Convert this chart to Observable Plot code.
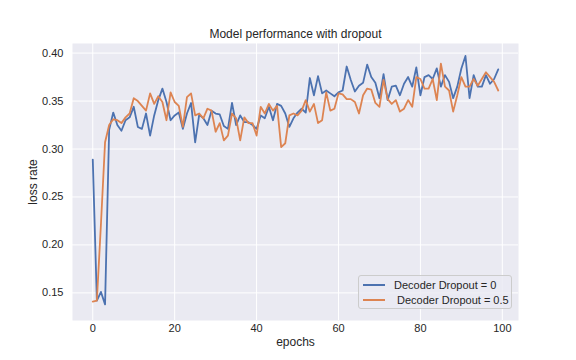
<!DOCTYPE html>
<html>
<head>
<meta charset="utf-8">
<script src="https://cdn.jsdelivr.net/npm/d3@7"></script>
<script src="https://cdn.jsdelivr.net/npm/@observablehq/plot@0.6"></script>
<style>
  html, body { margin: 0; padding: 0; background: #fff; }
  #wrap { position: relative; width: 576px; height: 360px; font-family: "Liberation Sans", Arial, sans-serif; color: #262626; }
  #legend { position: absolute; left: 358px; top: 275px; width: 154px; height: 34px; box-sizing: border-box;
    background: rgba(234,234,242,0.8); border: 1px solid #cccccc; border-radius: 3px; font-size: 11px; }
  .item { position: absolute; left: 4px; height: 14px; display: flex; align-items: center; white-space: pre; }
  .sw { display: inline-block; width: 22px; height: 2px; margin-right: 9px; }
</style>
</head>
<body>
<div id="wrap">
  <div id="chart"></div>
  <div id="legend"></div>
</div>
<script>
const title = "Model performance with dropout";
const xLabel = "epochs";
const yLabel = "loss rate";
const seriesNames = ["Decoder Dropout = 0", " Decoder Dropout = 0.5"];
const seriesColors = ["#4C72B0", "#DD8452"];
const xTicks = [0, 20, 40, 60, 80, 100];
const yTicks = [0.15, 0.20, 0.25, 0.30, 0.35, 0.40];

const lossDropout0 = [
  0.289, 0.142, 0.151, 0.138, 0.320, 0.338, 0.325, 0.319, 0.330, 0.333,
  0.344, 0.323, 0.321, 0.337, 0.314, 0.335, 0.351, 0.363, 0.349, 0.330,
  0.335, 0.338, 0.321, 0.337, 0.348, 0.307, 0.336, 0.332, 0.325, 0.340,
  0.337, 0.336, 0.324, 0.321, 0.348, 0.325, 0.335, 0.328, 0.328, 0.325,
  0.321, 0.335, 0.332, 0.344, 0.330, 0.347, 0.345, 0.337, 0.323, 0.332,
  0.338, 0.342, 0.338, 0.374, 0.356, 0.376, 0.358, 0.361, 0.358, 0.355,
  0.359, 0.361, 0.386, 0.372, 0.360, 0.366, 0.369, 0.388, 0.375, 0.369,
  0.353, 0.378, 0.351, 0.365, 0.366, 0.356, 0.368, 0.375, 0.365, 0.385,
  0.356, 0.375, 0.377, 0.373, 0.384, 0.365, 0.377, 0.370, 0.353, 0.365,
  0.384, 0.397, 0.353, 0.377, 0.365, 0.365, 0.377, 0.368, 0.373, 0.383
];
const lossDropout05 = [
  0.141, 0.142, 0.222, 0.307, 0.325, 0.331, 0.330, 0.327, 0.333, 0.337,
  0.353, 0.350, 0.345, 0.340, 0.358, 0.347, 0.355, 0.349, 0.330, 0.359,
  0.349, 0.345, 0.323, 0.354, 0.358, 0.335, 0.337, 0.332, 0.342, 0.340,
  0.318, 0.327, 0.309, 0.314, 0.337, 0.332, 0.309, 0.333, 0.327, 0.327,
  0.314, 0.344, 0.337, 0.347, 0.340, 0.345, 0.302, 0.306, 0.335, 0.337,
  0.335, 0.340, 0.351, 0.339, 0.347, 0.327, 0.330, 0.359, 0.340, 0.342,
  0.358, 0.357, 0.352, 0.352, 0.349, 0.337, 0.356, 0.363, 0.362, 0.348,
  0.344, 0.372, 0.352, 0.347, 0.351, 0.339, 0.342, 0.351, 0.344, 0.375,
  0.373, 0.363, 0.363, 0.373, 0.351, 0.389, 0.365, 0.361, 0.339, 0.356,
  0.375, 0.365, 0.365, 0.373, 0.366, 0.373, 0.380, 0.375, 0.370, 0.361
];

const series = [lossDropout0, lossDropout05];
const rows = [];
series.forEach((vals, s) => vals.forEach((v, i) => rows.push({epoch: i, loss: v, series: seriesNames[s]})));

const chart = Plot.plot({
  width: 576,
  height: 360,
  marginLeft: 72,
  marginRight: 58,
  marginTop: 43,
  marginBottom: 40,
  style: { fontFamily: "'Liberation Sans', Arial, sans-serif", fontSize: "11px", color: "#262626", background: "#ffffff" },
  x: { domain: [-4.95, 103.95], ticks: xTicks, tickSize: 0, tickPadding: 4, label: xLabel, labelAnchor: "center", labelArrow: "none", labelOffset: 25 },
  y: { domain: [0.1212, 0.41], ticks: yTicks, tickFormat: d3.format(".2f"), tickSize: 0, tickPadding: 9, label: yLabel, labelAnchor: "center", labelArrow: "none", labelOffset: 44 },
  color: { domain: seriesNames, range: seriesColors },
  marks: [
    Plot.frame({ fill: "#EAEAF2", stroke: null }),
    Plot.gridX(xTicks, { stroke: "#ffffff", strokeOpacity: 1, strokeWidth: 1 }),
    Plot.gridY(yTicks, { stroke: "#ffffff", strokeOpacity: 1, strokeWidth: 1 }),
    Plot.axisX({ ticks: xTicks, tickSize: 0, tickPadding: 4, fontSize: 11, label: xLabel, labelAnchor: "center", labelArrow: "none", labelOffset: 25 }),
    Plot.axisY({ ticks: yTicks, tickSize: 0, tickPadding: 9, tickFormat: d3.format(".2f"), fontSize: 11, label: yLabel, labelAnchor: "center", labelArrow: "none", labelOffset: 44 }),
    Plot.line(rows, { x: "epoch", y: "loss", z: "series", stroke: "series", strokeWidth: 1.8, strokeLinejoin: "round" }),
    Plot.text([title], { frameAnchor: "top", lineAnchor: "bottom", dy: -6, fontSize: 12, fill: "#262626" })
  ]
});
d3.select(chart).selectAll("[aria-label='x-axis label'] text, [aria-label='y-axis label'] text").style("font-size", "12px");
document.getElementById("chart").appendChild(chart);

const legend = document.getElementById("legend");
seriesNames.forEach((name, i) => {
  const item = document.createElement("div");
  item.className = "item";
  item.style.top = (2 + i * 15) + "px";
  const sw = document.createElement("span");
  sw.className = "sw";
  sw.style.background = seriesColors[i];
  item.appendChild(sw);
  item.appendChild(document.createTextNode(name));
  legend.appendChild(item);
});
</script>
</body>
</html>
